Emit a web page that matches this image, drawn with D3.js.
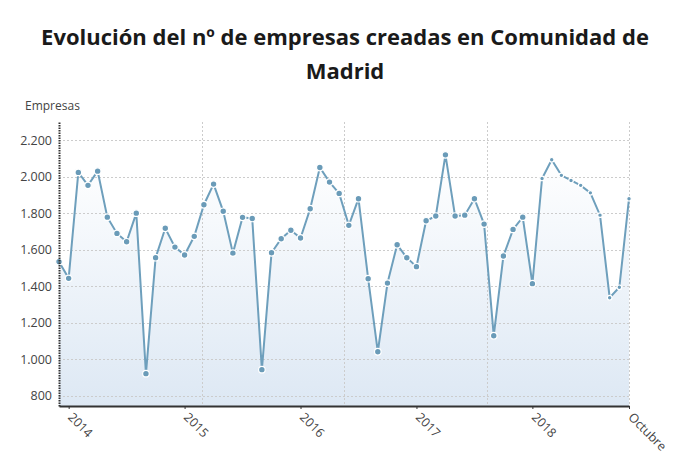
<!DOCTYPE html>
<html>
<head>
<meta charset="utf-8">
<script src="https://cdn.jsdelivr.net/npm/d3@7"></script>
<style>
  body { margin: 0; background: #fff; font-family: 'Open Sans', sans-serif; }
  svg { display: block; }
</style>
</head>
<body>
<div id="chart"></div>
<script>
// Data (empresas creadas por mes, Comunidad de Madrid)
const values = [
  1535, 1444, 2024, 1953, 2031, 1779, 1690, 1644, 1801, 922,
  1557, 1718, 1615, 1572, 1674, 1847, 1960, 1811, 1582, 1778,
  1772, 944, 1584, 1661, 1707, 1665, 1825, 2051, 1971, 1909,
  1734, 1880, 1442, 1042, 1418, 1628, 1557, 1508, 1759, 1785,
  2120, 1785, 1790, 1880, 1741, 1130, 1566, 1712, 1779, 1415,
  1991, 2093, 2008, 1980, 1953, 1912, 1790, 1338, 1395, 1880
];
const xTickIndex = [1, 13, 25, 37, 49, 59];
const xTickLabels = ['2014', '2015', '2016', '2017', '2018', 'Octubre'];
const yTicks = [800, 1000, 1200, 1400, 1600, 1800, 2000, 2200];

const CONFIG = {
  width: 690,
  height: 465,
  margin: { top: 122, right: 61, bottom: 59, left: 59 },
  lineColor: '#6e9fbc',
  dotColor: '#6a9bb8'
};
const innerW = CONFIG.width - CONFIG.margin.left - CONFIG.margin.right;
const innerH = CONFIG.height - CONFIG.margin.top - CONFIG.margin.bottom;

const locale = d3.formatLocale({ decimal: ',', thousands: '.', grouping: [3], currency: ['', '€'] });
const fmt = locale.format(',d');

const svg = d3.select('#chart').append('svg')
  .attr('width', CONFIG.width)
  .attr('height', CONFIG.height);

// Title
svg.append('text')
  .attr('x', CONFIG.width / 2)
  .attr('y', 45)
  .attr('text-anchor', 'middle')
  .style('font-size', '22px')
  .style('font-weight', 'bold')
  .attr('fill', '#1a1a1a')
  .text('Evolución del nº de empresas creadas en Comunidad de');
svg.append('text')
  .attr('x', CONFIG.width / 2)
  .attr('y', 79)
  .attr('text-anchor', 'middle')
  .style('font-size', '22px')
  .style('font-weight', 'bold')
  .attr('fill', '#1a1a1a')
  .text('Madrid');

svg.append('text')
  .attr('x', 25)
  .attr('y', 110)
  .style('font-size', '12px')
  .attr('fill', '#444')
  .text('Empresas');

const x = d3.scaleLinear().domain([0, values.length - 1]).range([0, innerW]);
const y = d3.scaleLinear().domain([745, 2300]).range([innerH, 0]);

const chart = svg.append('g')
  .attr('transform', `translate(${CONFIG.margin.left}, ${CONFIG.margin.top})`);

// Gradient for area
const grad = svg.append('defs').append('linearGradient')
  .attr('id', 'areaGrad')
  .attr('x1', 0).attr('y1', 0).attr('x2', 0).attr('y2', 1);
grad.append('stop').attr('offset', '0%').attr('stop-color', '#ffffff');
grad.append('stop').attr('offset', '100%').attr('stop-color', '#dde8f4');

const area = d3.area()
  .x((d, i) => x(i))
  .y0(innerH)
  .y1(d => y(d));

chart.append('path')
  .datum(values)
  .attr('d', area)
  .attr('fill', 'url(#areaGrad)');

// Grid lines
chart.append('g')
  .selectAll('line')
  .data(yTicks)
  .join('line')
  .attr('x1', 0)
  .attr('x2', innerW)
  .attr('y1', d => Math.round(y(d)) + 0.5)
  .attr('y2', d => Math.round(y(d)) + 0.5)
  .attr('stroke', '#cccccc')
  .attr('stroke-dasharray', '2,2');

const xMax = values.length - 1;
chart.append('g')
  .selectAll('line')
  .data([1, 2, 3, 4].map(k => xMax * k / 4))
  .join('line')
  .attr('x1', d => Math.round(x(d)) + 0.5)
  .attr('x2', d => Math.round(x(d)) + 0.5)
  .attr('y1', 0)
  .attr('y2', innerH)
  .attr('stroke', '#cccccc')
  .attr('stroke-dasharray', '2,2');

// Line
const line = d3.line()
  .x((d, i) => x(i))
  .y(d => y(d));

chart.append('path')
  .datum(values)
  .attr('d', line)
  .attr('fill', 'none')
  .attr('stroke', CONFIG.lineColor)
  .attr('stroke-width', 2);

chart.selectAll('.dot')
  .data(values)
  .join('circle')
  .attr('class', 'dot')
  .attr('cx', (d, i) => x(i))
  .attr('cy', d => y(d))
  .attr('r', (d, i) => i >= 50 ? 2.3 : 3.3)
  .attr('fill', CONFIG.dotColor)
  .attr('stroke', '#fff')
  .attr('stroke-width', 1.2);

// Y axis
const yAxis = chart.append('g')
  .call(d3.axisLeft(y).tickValues(yTicks).tickFormat(fmt).tickSize(0).tickPadding(7));
yAxis.select('.domain')
  .attr('stroke', '#333')
  .attr('stroke-width', 2)
  .attr('stroke-dasharray', '1.5,1');
yAxis.selectAll('text')
  .style('font-family', "'Open Sans', sans-serif")
  .style('font-size', '12.5px')
  .attr('fill', '#444');

// X axis
const xAxis = chart.append('g')
  .attr('transform', `translate(0, ${innerH})`)
  .call(d3.axisBottom(x).tickValues(xTickIndex).tickFormat((d, i) => xTickLabels[i]).tickSize(3).tickSizeOuter(0));
xAxis.select('.domain')
  .attr('stroke', '#333')
  .attr('stroke-width', 2);
xAxis.selectAll('line').attr('stroke', '#333');
xAxis.selectAll('text')
  .style('font-family', "'Open Sans', sans-serif")
  .style('font-size', '12.5px')
  .attr('fill', '#444')
  .attr('text-anchor', 'start')
  .attr('dy', null)
  .attr('y', 0)
  .attr('transform', 'translate(-2, 12) rotate(45)');
</script>
</body>
</html>
